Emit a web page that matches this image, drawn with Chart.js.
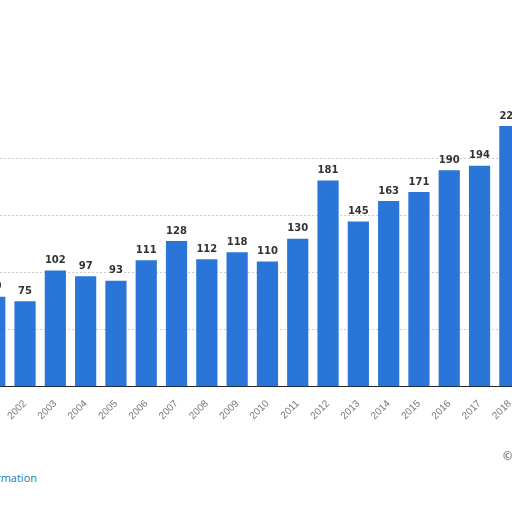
<!DOCTYPE html>
<html><head><meta charset="utf-8">
<script src="https://cdn.jsdelivr.net/npm/chart.js@4"></script>
<style>
body{margin:0;background:#fff;overflow:hidden;width:512px;height:512px;position:relative;font-family:"Open Sans",sans-serif}
#wrap{position:absolute;left:-24px;top:102px;width:549px;height:323px}
#info{position:absolute;left:-79px;top:470px;font-size:11px;color:#1a7ab8}
#copy{position:absolute;left:503px;top:448px;font-size:11px;color:#444}
</style></head><body>
<div id="wrap"><canvas id="c"></canvas></div>
<div id="info">Additional Information</div>
<div id="copy">©</div>
<script>
const years=["2001","2002","2003","2004","2005","2006","2007","2008","2009","2010","2011","2012","2013","2014","2015","2016","2017","2018"];
const values=[79,75,102,97,93,111,128,112,118,110,130,181,145,163,171,190,194,229];
const labelPlugin={id:'lbl',afterDatasetsDraw(ch){const ctx=ch.ctx;const m=ch.getDatasetMeta(0);ctx.save();ctx.font='bold 10px "DejaVu Sans"';ctx.fillStyle='#333';ctx.textAlign='center';ctx.textBaseline='bottom';m.data.forEach((b,i)=>ctx.fillText(values[i],b.x,b.y-5));ctx.restore();}};
new Chart(document.getElementById('c'),{type:'bar',data:{labels:years,datasets:[{data:values,backgroundColor:'#2a76d8',barPercentage:0.7,categoryPercentage:1}]},
options:{responsive:true,maintainAspectRatio:false,animation:false,layout:{padding:0},
plugins:{legend:{display:false},tooltip:{enabled:false}},
scales:{x:{grid:{display:false},border:{color:'#222',width:1},ticks:{color:'#777',font:{size:10},minRotation:45,maxRotation:45}},
y:{display:true,min:0,max:250,ticks:{display:false,stepSize:50},border:{display:false,dash:[2,2]},grid:{color:(c)=>c.tick&&c.tick.value===250?'rgba(0,0,0,0)':'#ccc',drawTicks:false}}}},plugins:[labelPlugin]});
</script></body></html>
